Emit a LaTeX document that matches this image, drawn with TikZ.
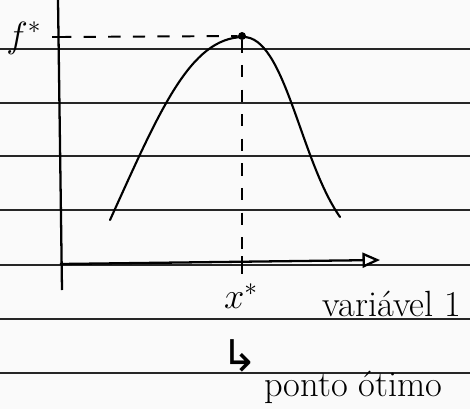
\documentclass[tikz,border=0pt]{standalone}
\usepackage{amsmath,amssymb}
\usepackage{fontspec}
\newfontfamily\arrowfont{DejaVu Sans}
\usepackage{xcolor}
\usepackage{tikz}
\usetikzlibrary{arrows.meta,positioning,calc}

\begin{document}
\begin{tikzpicture}[
                x=0.2mm, y=-0.2mm,
                font=\huge,
                ruled/.style={line width=1.1pt, black!85},
                axis/.style={line width=1.3pt},
                curve/.style={line width=1.2pt, line cap=round},
                guide/.style={line width=1.1pt, dashed, dash pattern=on 7pt off 7pt},
                label/.style={inner sep=1pt}
            ]
            \useasboundingbox[fill=white!96!gray] (0,0) rectangle (470,409);
            % linhas do caderno
            \foreach \yy in {49,103,156,210,265,319,373}
                \draw[ruled] (0,\yy) -- (470,\yy);
            % eixos
            \coordinate (ytop) at (58,0);
            \coordinate (ybot) at (62,290);
            \coordinate (xleft) at (60,264);
            \coordinate (xright) at (380,260);
            \draw[axis] (ytop) -- (ybot);
            \draw[axis, -{Triangle[open, length=3.5mm, width=3mm]}] (xleft) -- (xright);
            % curva
            \draw[curve] (110,220) .. controls (160,110) and (190,38) .. (243,37)
                .. controls (285,36) and (300,160) .. (340,217);
            % ponto otimo
            \node[circle, fill, inner sep=1.6pt] (peak) at (242,36) {};
            \coordinate (fstar) at (59,37);
            \coordinate (xstar) at (242,264);
            \draw[axis] ($(fstar)+(-7,0)$) -- ($(fstar)+(10,0)$);
            \draw[axis] ($(xstar)+(0,-8)$) -- ($(xstar)+(0,10)$);
            \draw[guide] (fstar) -- (peak);
            \draw[guide] (peak) -- (xstar);
            % textos
            \node[label] (flab) at (24,38) {$f^{*}$};
            \node[label] (xlab) at (241,296) {$x^{*}$};
            \node[label] (varlab) at (392,304) {variável 1};
            \node[label, font=\Huge] (hook) at (240,356) {\arrowfont ↳};
            \node[label, anchor=base west] (otimo) at (262,396) {ponto ótimo};
        \end{tikzpicture}
\end{document}
